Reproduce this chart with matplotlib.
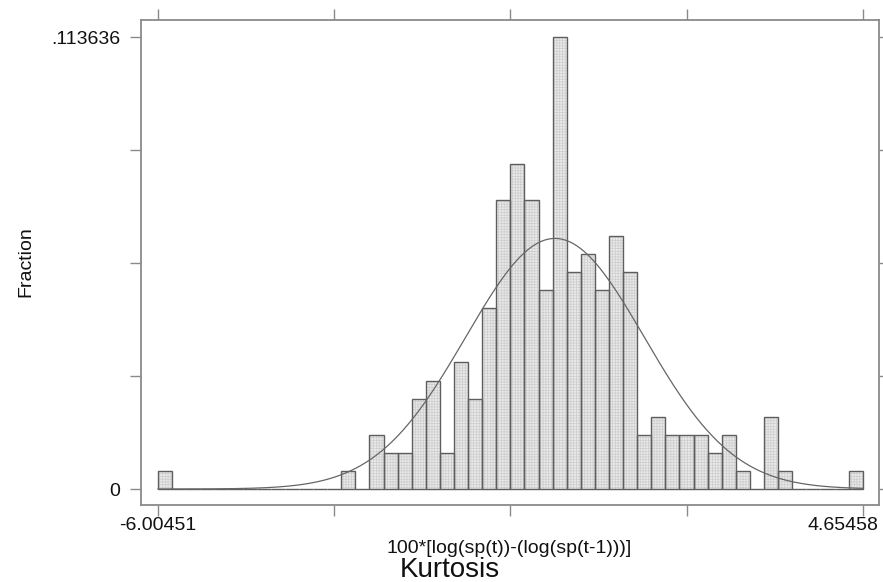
import numpy as np
import matplotlib
matplotlib.use("Agg")
import matplotlib.pyplot as plt
from matplotlib.transforms import ScaledTranslation

plt.rcParams["font.family"] = ["Liberation Sans", "DejaVu Sans"]
plt.rcParams["hatch.linewidth"] = 0.5

# histogram of 100*[log(sp(t))-(log(sp(t-1)))], 50 bins, N = 220
x_min = -6.00451
x_max = 4.65458
n_obs = 220
bin_counts = [
    1, 0, 0, 0, 0, 0, 0, 0, 0, 0,
    0, 0, 0, 1, 0, 3, 2, 2, 5, 6,
    2, 7, 5, 10, 16, 18, 16, 11, 25, 12,
    13, 11, 14, 12, 3, 4, 3, 3, 3, 2,
    3, 1, 0, 4, 1, 0, 0, 0, 0, 1,
]
# normal overlay
curve_mean = 0.0
curve_sd = 1.35

x_label = "100*[log(sp(t))-(log(sp(t-1)))]"
y_label = "Fraction"
title = "Kurtosis"

counts = np.array(bin_counts, dtype=float)
fraction = counts / n_obs
edges = np.linspace(x_min, x_max, len(bin_counts) + 1)
width = edges[1] - edges[0]
y_max = fraction.max()

fig = plt.figure(figsize=(8.83, 5.82), dpi=100)
W, H = 883, 582
ax = fig.add_axes([141 / W, 1 - 505 / H, (879 - 141) / W, (505 - 20) / H])

frame = "#8a8a8a"

# bars: dotted fill first, then the outlines
ax.bar(edges[:-1], fraction, width=width, align="edge",
       facecolor="#e9e9e9", edgecolor="#cdcdcd", linewidth=0, hatch="++++++")
ax.bar(edges[:-1], fraction, width=width, align="edge",
       fill=False, edgecolor="#5e5e5e", linewidth=1.0)

xs = np.linspace(x_min, x_max, 400)
ys = width * np.exp(-0.5 * ((xs - curve_mean) / curve_sd) ** 2) / (curve_sd * np.sqrt(2 * np.pi))
ax.plot(xs, ys, color="#666666", linewidth=0.9)

span = x_max - x_min
ax.set_xlim(x_min - span * 17 / 704.4, x_max + span * 16.3 / 704.4)
ax.set_ylim(-y_max * 16 / 452, y_max + y_max * 17 / 452)

xt = np.linspace(x_min, x_max, 5)
yt = np.linspace(0, y_max, 5)
ax.set_xticks(xt)
ax.set_xticklabels(["-6.00451", "", "", "", "4.65458"])
ax.set_yticks(yt)
ax.set_yticklabels(["0", "", "", "", ".113636"])

ax.tick_params(axis="both", which="both", direction="out", length=8,
               width=1.0, color=frame, labelsize=14, labelcolor="#111111",
               top=True, right=True)
ax.tick_params(axis="x", pad=1)
ax.tick_params(axis="y", pad=7)

last = ax.get_xticklabels()[-1]
last.set_horizontalalignment("right")
last.set_transform(last.get_transform() + ScaledTranslation(16 / 100, 0, fig.dpi_scale_trans))

for sp in ax.spines.values():
    sp.set_color(frame)
    sp.set_linewidth(1.3)

fig.text(509 / W, 1 - 553 / H, x_label, ha="center", va="baseline", fontsize=14, color="#111111")
fig.text(450 / W, 1 - 577 / H, title, ha="center", va="baseline", fontsize=20, color="#111111")
fig.text(25.5 / W, 1 - 262 / H, y_label, ha="center", va="center", rotation=90, fontsize=14, color="#111111")

fig.savefig("out.png", dpi=100)
